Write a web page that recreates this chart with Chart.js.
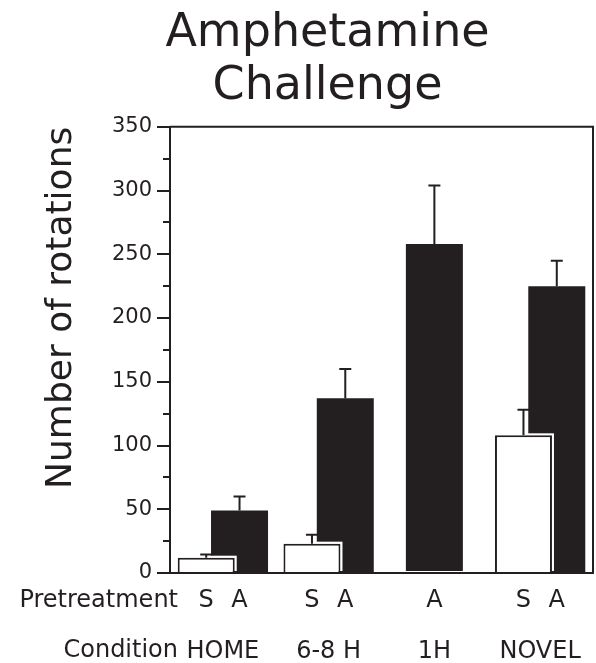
<!DOCTYPE html>
<html>
<head>
<meta charset="utf-8">
<script src="https://cdn.jsdelivr.net/npm/chart.js@4.4.0/dist/chart.umd.min.js"></script>
<style>
  html, body { margin: 0; padding: 0; background: #fff; }
  #wrap { width: 596px; height: 663px; }
</style>
</head>
<body>
<div id="wrap"><canvas id="myChart" width="596" height="663"></canvas></div>
<script>
// values
const conditions = ['HOME', '6-8 H', '1H', 'NOVEL'];
const salineMeans = [12, 23, null, 108];
const salineSem = [2.5, 7, null, 20];
const amphMeans = [49, 137, 258, 225];
const amphSem = [11, 23, 46, 20];
const yTicks = { min: 0, max: 350, step: 50, minorStep: 25 };

const INK = '#231f20';
const FONT = "'DejaVu Sans', sans-serif";

// white gap round the open bars so they stand off the black ones
const haloPlugin = {
    id: 'halo',
    beforeDatasetDraw(chart, args) {
        if (args.index !== 0) return;
        const ctx = chart.ctx;
        ctx.save();
        ctx.fillStyle = '#fff';
        args.meta.data.forEach(bar => {
            if (bar.skip) return;
            const p = bar.getProps(['x', 'y', 'base', 'width'], true);
            ctx.fillRect(p.x - p.width / 2 - 2, p.y - 2, p.width + 4, p.base - p.y + 1);
        });
        ctx.restore();
    }
};

// SEM whiskers, upward only
const errorBarPlugin = {
    id: 'errorBars',
    afterDatasetDraw(chart, args) {
        const sem = chart.data.datasets[args.index].sem;
        const values = chart.data.datasets[args.index].data;
        const yScale = chart.scales.y;
        const ctx = chart.ctx;
        ctx.save();
        ctx.strokeStyle = INK;
        ctx.lineWidth = 2;
        args.meta.data.forEach((bar, i) => {
            if (values[i] == null || sem[i] == null) return;
            const p = bar.getProps(['x', 'y'], true);
            const yTop = yScale.getPixelForValue(values[i] + sem[i]);
            ctx.beginPath();
            ctx.moveTo(p.x, p.y);
            ctx.lineTo(p.x, yTop);
            ctx.moveTo(p.x - 6, yTop);
            ctx.lineTo(p.x + 6, yTop);
            ctx.stroke();
        });
        ctx.restore();
    }
};

// top/right frame, the S/A letters under each bar and the row names
const framePlugin = {
    id: 'frame',
    afterDraw(chart) {
        const { ctx, chartArea } = chart;
        ctx.save();
        ctx.strokeStyle = INK;
        ctx.lineWidth = 2;
        ctx.beginPath();
        ctx.moveTo(chartArea.left, chartArea.top);
        ctx.lineTo(chartArea.right, chartArea.top);
        ctx.lineTo(chartArea.right, chartArea.bottom);
        ctx.stroke();

        ctx.fillStyle = INK;
        ctx.font = '24px ' + FONT;
        ctx.textBaseline = 'middle';
        ctx.textAlign = 'center';
        const rowY = chartArea.bottom + 28;
        chart.data.datasets.forEach((ds, di) => {
            chart.getDatasetMeta(di).data.forEach((bar, i) => {
                if (ds.data[i] == null) return;
                ctx.fillText(ds.label, bar.x, rowY);
            });
        });
        ctx.textAlign = 'right';
        ctx.fillText('Pretreatment', chartArea.left + 8, rowY);
        ctx.fillText('Condition', chartArea.left + 8, chart.scales.x.top + 78);
        ctx.restore();
    }
};

const ctx = document.getElementById('myChart').getContext('2d');
const myChart = new Chart(ctx, {
    type: 'bar',
    data: {
        labels: conditions,
        datasets: [{
            label: 'S',
            data: salineMeans,
            sem: salineSem,
            backgroundColor: '#fff',
            borderColor: INK,
            borderWidth: 2
        }, {
            label: 'A',
            data: amphMeans,
            sem: amphSem,
            backgroundColor: INK,
            borderWidth: 0
        }]
    },
    options: {
        responsive: false,
        animation: false,
        skipNull: true,
        categoryPercentage: 0.63,
        barPercentage: 1.75,
        maxBarThickness: 57,
        layout: { padding: { left: 62, right: 3, top: 0, bottom: 0 } },
        plugins: {
            legend: { display: false },
            tooltip: { enabled: false },
            title: {
                display: true,
                text: ['Amphetamine', 'Challenge'],
                color: INK,
                font: { family: FONT, size: 46, weight: 'normal', lineHeight: 1.15 },
                padding: { top: 8, bottom: 13 }
            }
        },
        scales: {
            x: {
                grid: { display: false, drawTicks: false },
                border: { display: true, color: INK, width: 2 },
                ticks: {
                    color: INK,
                    padding: 64,
                    font: { family: FONT, size: 24 }
                },
                afterFit: scale => {
                    scale.height = 90;
                    scale.paddingLeft = 0;
                    scale.paddingRight = 0;
                }
            },
            y: {
                min: yTicks.min,
                max: yTicks.max,
                weight: 1,
                border: { display: true, color: INK, width: 2 },
                grid: {
                    drawOnChartArea: false,
                    color: INK,
                    lineWidth: 2,
                    tickLength: 13
                },
                ticks: {
                    stepSize: yTicks.step,
                    color: INK,
                    padding: 5,
                    font: { family: FONT, size: 21 }
                },
                title: {
                    display: true,
                    text: 'Number of rotations',
                    align: 'end',
                    color: INK,
                    padding: { top: -22, bottom: 0 },
                    font: { family: FONT, size: 36 }
                },
                afterFit: scale => { scale.width = 108; }
            },
            yMinor: {
                position: 'left',
                min: yTicks.min,
                max: yTicks.max,
                weight: 0,
                border: { display: false },
                grid: {
                    drawOnChartArea: false,
                    color: INK,
                    lineWidth: 2,
                    tickLength: 7
                },
                ticks: { stepSize: yTicks.minorStep, display: false },
                afterFit: scale => { scale.width = 0; }
            }
        }
    },
    plugins: [haloPlugin, errorBarPlugin, framePlugin]
});
</script>
</body>
</html>
